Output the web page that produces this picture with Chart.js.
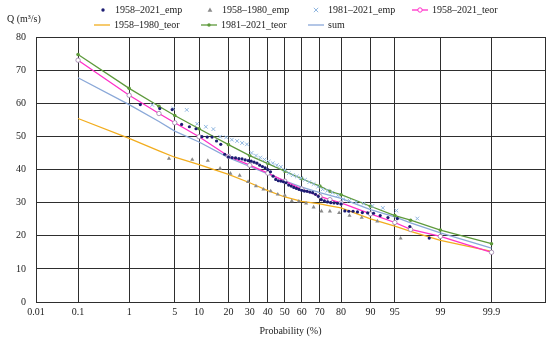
<!DOCTYPE html>
<html>
<head>
<meta charset="utf-8">
<script src="https://cdn.jsdelivr.net/npm/chart.js@4.4.1/dist/chart.umd.min.js"></script>
<style>
    html, body { margin: 0; padding: 0; background: #fff; }
    canvas { display: block; }
</style>
</head>
<body>
<canvas id="chart" width="550" height="337"></canvas>
<script>
// probability axis ticks (%)
const probTicks = [0.01, 0.1, 1, 5, 10, 20, 30, 40, 50, 60, 70, 80, 90, 95, 99, 99.9];

// empirical, 1958–2021
const emp5821P = [1.54, 3.08, 4.62, 6.15, 7.69, 9.23, 10.77, 12.31, 13.85, 15.38, 16.92, 18.46, 20.00, 21.54, 23.08, 24.62,
    26.15, 27.69, 29.23, 30.77, 32.31, 33.85, 35.38, 36.92, 38.46, 40.00, 41.54, 43.08, 44.62, 46.15, 47.69, 49.23,
    50.77, 52.31, 53.85, 55.38, 56.92, 58.46, 60.00, 61.54, 63.08, 64.62, 66.15, 67.69, 69.23, 70.77, 72.31, 73.85,
    75.38, 76.92, 78.46, 80.00, 81.54, 83.08, 84.62, 86.15, 87.69, 89.23, 90.77, 92.31, 93.85, 95.38, 96.92, 98.46];
const emp5821Q = [59.6, 58.4, 58.1, 53.6, 52.9, 52.3, 49.9, 49.8, 49.8, 48.6, 47.6, 44.6, 43.8, 43.6, 43.5, 43.3,
    43.2, 42.9, 42.7, 42.5, 42.2, 41.9, 41.3, 40.9, 40.5, 40.0, 39.3, 38.0, 37.0, 36.6, 36.5, 36.3,
    36.0, 35.3, 35.0, 34.6, 34.3, 34.0, 33.7, 33.5, 33.4, 33.2, 33.0, 32.5, 31.9, 30.9, 30.5, 30.2,
    30.0, 29.9, 29.8, 29.6, 27.5, 27.4, 27.4, 27.2, 27.0, 26.9, 26.8, 26.1, 25.5, 25.2, 22.8, 19.3];

// empirical, 1958–1980
const emp5880P = [4.17, 8.33, 12.50, 16.67, 20.83, 25.00, 29.17, 33.33, 37.50, 41.67, 45.83, 50.00,
    54.17, 58.33, 62.50, 66.67, 70.83, 75.00, 79.17, 83.33, 87.50, 91.67, 95.83];
const emp5880Q = [43.3, 43.0, 42.7, 40.3, 38.8, 38.2, 36.3, 35.0, 34.0, 33.5, 32.5, 32.2,
    30.5, 30.4, 29.8, 28.6, 27.4, 27.4, 26.9, 26.1, 25.5, 24.4, 19.2];

// empirical, 1981–2021
const emp8121P = [2.38, 4.76, 7.14, 9.52, 11.90, 14.29, 16.67, 19.05, 21.43, 23.81, 26.19, 28.57, 30.95, 33.33,
    35.71, 38.10, 40.48, 42.86, 45.24, 47.62, 50.00, 52.38, 54.76, 57.14, 59.52, 61.90, 64.29, 66.67,
    69.05, 71.43, 73.81, 76.19, 78.57, 80.95, 83.33, 85.71, 88.10, 90.48, 92.86, 95.24, 97.62];
const emp8121Q = [59.5, 58.4, 58.0, 53.8, 52.9, 52.2, 49.9, 49.7, 49.0, 48.6, 48.0, 47.6, 45.0, 44.2,
    43.6, 43.0, 42.4, 41.9, 41.3, 40.8, 39.8, 38.9, 38.3, 37.9, 37.4, 36.9, 36.2, 35.6,
    34.8, 34.0, 33.6, 33.0, 32.2, 31.0, 30.6, 30.2, 29.7, 29.0, 28.4, 27.6, 25.2];

// theoretical curves
const teorP = [0.1, 1, 3, 5, 10, 20, 30, 40, 50, 60, 70, 75, 80, 90, 95, 97, 99, 99.9];
const teor5821Q = [73.0, 62.4, 56.9, 54.1, 49.9, 44.0, 41.3, 38.9, 36.5, 34.1, 31.9, 30.9, 29.9, 26.6, 24.0, 21.9, 19.8, 15.0];
const teor5880Q = [55.4, 49.4, 45.6, 43.7, 41.5, 38.5, 36.0, 33.6, 31.7, 30.4, 29.6, 29.0, 28.4, 25.1, 22.9, 21.3, 18.6, 15.3];
const teor8121Q = [74.7, 64.5, 59.1, 56.3, 52.3, 47.5, 44.2, 41.8, 39.5, 37.2, 35.0, 33.4, 32.4, 28.9, 26.1, 24.7, 21.7, 17.6];
const sumQ = [67.7, 59.6, 54.5, 51.6, 48.3, 43.6, 40.9, 38.7, 36.6, 34.7, 33.0, 32.2, 31.3, 27.9, 25.7, 23.9, 20.9, 16.3];

// inverse normal CDF (Acklam) - turns the probability axis into a linear one
function normInv(p) {
    const a = [-3.969683028665376e+01, 2.209460984245205e+02, -2.759285104469687e+02, 1.383577518672690e+02, -3.066479806614716e+01, 2.506628277459239e+00];
    const b = [-5.447609879822406e+01, 1.615858368580409e+02, -1.556989798598866e+02, 6.680131188771972e+01, -1.328068155288572e+01];
    const c = [-7.784894002430293e-03, -3.223964580411365e-01, -2.400758277161838e+00, -2.549732539343734e+00, 4.374664141464968e+00, 2.938163982698783e+00];
    const d = [7.784695709041462e-03, 3.224671290700398e-01, 2.445134137142996e+00, 3.754408661907416e+00];
    const pl = 0.02425;
    let q, r;
    if (p < pl) {
        q = Math.sqrt(-2 * Math.log(p));
        return (((((c[0]*q+c[1])*q+c[2])*q+c[3])*q+c[4])*q+c[5]) / ((((d[0]*q+d[1])*q+d[2])*q+d[3])*q+1);
    }
    if (p > 1 - pl) {
        q = Math.sqrt(-2 * Math.log(1 - p));
        return -(((((c[0]*q+c[1])*q+c[2])*q+c[3])*q+c[4])*q+c[5]) / ((((d[0]*q+d[1])*q+d[2])*q+d[3])*q+1);
    }
    q = p - 0.5;
    r = q * q;
    return (((((a[0]*r+a[1])*r+a[2])*r+a[3])*r+a[4])*r+a[5])*q / (((((b[0]*r+b[1])*r+b[2])*r+b[3])*r+b[4])*r+1);
}
const zOf = pct => normInv(pct / 100);
const pts = (ps, qs) => ps.map((p, i) => ({ x: zOf(p), y: qs[i] }));

const FONT = 'Liberation Serif';
const textColor = '#222';
const gridColor = '#2e2e2e';
const xMin = zOf(0.01);
const xMax = 3.89;

const colors = {
    navy: '#1c1c72',
    gray: '#8a8a8a',
    lightBlue: '#8fb6e0',
    pink: '#ff2fc8',
    orange: '#f2ad1e',
    green: '#5e9a3c',
    sum: '#8aa8d8'
};

// custom two-row legend + y title, as in the original figure
const topLegend = {
    id: 'topLegend',
    afterDraw(chart) {
        const { ctx } = chart;
        ctx.save();
        ctx.font = `10px "${FONT}"`;
        ctx.fillStyle = textColor;
        ctx.textBaseline = 'middle';
        ctx.textAlign = 'left';
        ctx.fillText('Q (m\u00b3/s)', 7, 19);

        const items = [
            { x: 103, y: 10, kind: 'dot', text: '1958\u20132021_emp', color: colors.navy },
            { x: 210, y: 10, kind: 'tri', text: '1958\u20131980_emp', color: colors.gray },
            { x: 316, y: 10, kind: 'cross', text: '1981\u20132021_emp', color: colors.lightBlue },
            { x: 420, y: 10, kind: 'lineCircle', text: '1958\u20132021_teor', color: colors.pink },
            { x: 102, y: 25, kind: 'line', text: '1958\u20131980_teor', color: colors.orange },
            { x: 209, y: 25, kind: 'lineDot', text: '1981\u20132021_teor', color: colors.green },
            { x: 316, y: 25, kind: 'line', text: 'sum', color: colors.sum }
        ];
        items.forEach(it => {
            const { x, y, color } = it;
            ctx.strokeStyle = color;
            ctx.fillStyle = color;
            ctx.lineWidth = 1.3;
            if (it.kind.startsWith('line')) {
                ctx.beginPath();
                ctx.moveTo(x - 8, y);
                ctx.lineTo(x + 8, y);
                ctx.stroke();
            }
            if (it.kind === 'dot' || it.kind === 'lineDot') {
                ctx.beginPath();
                ctx.arc(x, y, 1.7, 0, Math.PI * 2);
                ctx.fill();
            } else if (it.kind === 'lineCircle') {
                ctx.beginPath();
                ctx.arc(x, y, 2.2, 0, Math.PI * 2);
                ctx.fillStyle = '#fff';
                ctx.fill();
                ctx.lineWidth = 1;
                ctx.stroke();
            } else if (it.kind === 'tri') {
                ctx.beginPath();
                ctx.moveTo(x, y - 2.6);
                ctx.lineTo(x + 2.4, y + 1.8);
                ctx.lineTo(x - 2.4, y + 1.8);
                ctx.closePath();
                ctx.fill();
            } else if (it.kind === 'cross') {
                ctx.lineWidth = 1;
                ctx.beginPath();
                ctx.moveTo(x - 2.2, y - 2.2); ctx.lineTo(x + 2.2, y + 2.2);
                ctx.moveTo(x + 2.2, y - 2.2); ctx.lineTo(x - 2.2, y + 2.2);
                ctx.stroke();
            }
            ctx.fillStyle = textColor;
            ctx.fillText(it.text, x + 12, y);
        });
        ctx.restore();
    }
};

new Chart(document.getElementById('chart').getContext('2d'), {
    type: 'scatter',
    data: {
        datasets: [{
            label: '1958\u20132021_emp',
            data: pts(emp5821P, emp5821Q),
            pointStyle: 'circle',
            pointRadius: 1.6,
            backgroundColor: colors.navy,
            borderColor: colors.navy,
            borderWidth: 0
        }, {
            label: '1958\u20131980_emp',
            data: pts(emp5880P, emp5880Q),
            pointStyle: 'triangle',
            pointRadius: 2.4,
            backgroundColor: colors.gray,
            borderColor: colors.gray,
            borderWidth: 0
        }, {
            label: '1981\u20132021_emp',
            data: pts(emp8121P, emp8121Q),
            pointStyle: 'crossRot',
            pointRadius: 2.6,
            borderColor: colors.lightBlue,
            borderWidth: 1
        }, {
            label: '1958\u20132021_teor',
            data: pts(teorP, teor5821Q),
            showLine: true,
            borderColor: colors.pink,
            borderWidth: 1.3,
            pointStyle: 'circle',
            pointRadius: 2.2,
            pointBackgroundColor: '#fff',
            pointBorderColor: '#9a7ea8',
            pointBorderWidth: 0.8
        }, {
            label: '1958\u20131980_teor',
            data: pts(teorP, teor5880Q),
            showLine: true,
            borderColor: colors.orange,
            borderWidth: 1.3,
            pointRadius: 0
        }, {
            label: '1981\u20132021_teor',
            data: pts(teorP, teor8121Q),
            showLine: true,
            borderColor: colors.green,
            borderWidth: 1.3,
            pointStyle: 'circle',
            pointRadius: 1.8,
            pointBackgroundColor: colors.green,
            pointBorderWidth: 0
        }, {
            label: 'sum',
            data: pts(teorP, sumQ),
            showLine: true,
            borderColor: colors.sum,
            borderWidth: 1.3,
            pointRadius: 0
        }]
    },
    options: {
        responsive: false,
        animation: false,
        layout: { padding: { top: 37, right: 1, left: 0, bottom: 0 } },
        plugins: {
            legend: { display: false },
            tooltip: { enabled: false }
        },
        scales: {
            x: {
                type: 'linear',
                min: xMin,
                max: xMax,
                afterBuildTicks(scale) {
                    scale.ticks = probTicks.map(p => ({ value: zOf(p) })).concat([{ value: xMax }]);
                },
                afterFit(scale) { scale.height = 35; },
                ticks: {
                    autoSkip: false,
                    maxRotation: 0,
                    padding: 4,
                    color: textColor,
                    font: { family: FONT, size: 10 },
                    callback: (v, i) => i < probTicks.length ? String(probTicks[i]) : ''
                },
                grid: { color: gridColor, lineWidth: 1, drawTicks: false },
                border: { color: gridColor },
                title: {
                    display: true,
                    text: 'Probability (%)',
                    color: textColor,
                    font: { family: FONT, size: 10 },
                    padding: { top: 4, bottom: 0 }
                }
            },
            y: {
                min: 0,
                max: 80,
                afterFit(scale) { scale.width = 36; },
                ticks: {
                    stepSize: 10,
                    padding: 10,
                    color: textColor,
                    font: { family: FONT, size: 10 }
                },
                grid: { color: gridColor, lineWidth: 1, drawTicks: false },
                border: { color: gridColor }
            }
        }
    },
    plugins: [topLegend]
});
</script>
</body>
</html>
